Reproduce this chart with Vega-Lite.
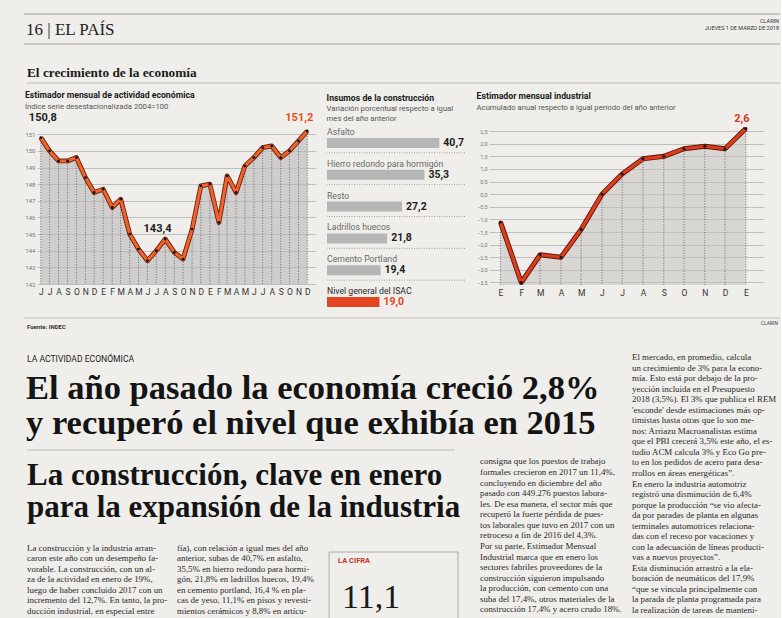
{
  "$schema": "https://vega.github.io/schema/vega-lite/v6.json",
  "background": "#efeeea",
  "padding": {"left": 23, "top": 0, "right": 0, "bottom": 0},
  "spacing": 0,
  "config": {
    "font": "Roboto",
    "view": {"stroke": null},
    "locale": {"number": {"decimal": ",", "thousands": ".", "grouping": [3], "currency": ["$", ""]}},
    "title": {"anchor": "start", "frame": "bounds", "font": "Roboto", "fontSize": 8.7, "fontWeight": "bold", "color": "#1a1a1a", "subtitleFont": "Roboto", "subtitleFontSize": 7.7, "subtitleColor": "#555555", "subtitlePadding": 3, "subtitleLineHeight": 10},
    "axis": {"labelFont": "Roboto"}
  },
  "vconcat": [
    {
      "width": 743,
      "height": 91,
      "layer": [
        {"data": {"values": [{"linea": "superior"}]}, "mark": {"type": "rule", "color": "#8a8a8a", "strokeWidth": 0.8}, "encoding": {"x": {"value": -13}, "x2": {"value": 743}, "y": {"value": 14}}},
        {"data": {"values": [{"linea": "cabecera"}]}, "mark": {"type": "rule", "color": "#8a8a8a", "strokeWidth": 0.8}, "encoding": {"x": {"value": -13}, "x2": {"value": 743}, "y": {"value": 44}}},
        {"data": {"values": [{"linea": "seccion"}]}, "mark": {"type": "rule", "color": "#a0a0a0", "strokeWidth": 0.7}, "encoding": {"x": {"value": -10}, "x2": {"value": 743}, "y": {"value": 83}}},
        {"data": {"values": [{"t": "16 | EL PAÍS"}]}, "mark": {"type": "text", "align": "left", "baseline": "alphabetic", "font": "Liberation Serif", "fontSize": 17, "color": "#222222"}, "encoding": {"text": {"field": "t"}, "x": {"value": -11}, "y": {"value": 35}}},
        {"data": {"values": [{"t": "CLARIN"}]}, "mark": {"type": "text", "align": "right", "baseline": "alphabetic", "fontSize": 5.5, "color": "#333333"}, "encoding": {"text": {"field": "t"}, "x": {"value": 742}, "y": {"value": 23}}},
        {"data": {"values": [{"t": "JUEVES 1 DE MARZO DE 2018"}]}, "mark": {"type": "text", "align": "right", "baseline": "alphabetic", "fontSize": 5.5, "color": "#333333"}, "encoding": {"text": {"field": "t"}, "x": {"value": 742}, "y": {"value": 30}}},
        {"data": {"values": [{"t": "El crecimiento de la economía"}]}, "mark": {"type": "text", "align": "left", "baseline": "alphabetic", "font": "Liberation Serif", "fontWeight": "bold", "fontSize": 13.3, "color": "#1a1a1a"}, "encoding": {"text": {"field": "t"}, "x": {"value": -10}, "y": {"value": 77}}}
      ]
    },
    {
      "hconcat": [
        {
          "width": 279,
          "height": 163,
          "title": {"text": "Estimador mensual de actividad económica", "subtitle": "Índice serie desestacionalizada 2004=100", "offset": 1},
          "data": {
            "values": [
              {"fecha": "2015-06-01", "v": 150.8, "anio": "2015", "etiqueta": "150,8"},
              {"fecha": "2015-07-01", "v": 150.0, "anio": "2015"},
              {"fecha": "2015-08-01", "v": 149.4, "anio": "2015"},
              {"fecha": "2015-09-01", "v": 149.4, "anio": "2015"},
              {"fecha": "2015-10-01", "v": 149.6, "anio": "2015"},
              {"fecha": "2015-11-01", "v": 148.4, "anio": "2015"},
              {"fecha": "2015-12-01", "v": 147.5, "anio": "2015"},
              {"fecha": "2016-01-01", "v": 147.7, "anio": "2016"},
              {"fecha": "2016-02-01", "v": 146.6, "anio": "2016"},
              {"fecha": "2016-03-01", "v": 147.1, "anio": "2016"},
              {"fecha": "2016-04-01", "v": 145.0, "anio": "2016"},
              {"fecha": "2016-05-01", "v": 144.1, "anio": "2016"},
              {"fecha": "2016-06-01", "v": 143.4, "anio": "2016", "etiqueta": "143,4"},
              {"fecha": "2016-07-01", "v": 144.0, "anio": "2016"},
              {"fecha": "2016-08-01", "v": 144.7, "anio": "2016"},
              {"fecha": "2016-09-01", "v": 143.9, "anio": "2016"},
              {"fecha": "2016-10-01", "v": 143.5, "anio": "2016"},
              {"fecha": "2016-11-01", "v": 145.3, "anio": "2016"},
              {"fecha": "2016-12-01", "v": 147.9, "anio": "2016"},
              {"fecha": "2017-01-01", "v": 148.0, "anio": "2017"},
              {"fecha": "2017-02-01", "v": 145.7, "anio": "2017"},
              {"fecha": "2017-03-01", "v": 148.5, "anio": "2017"},
              {"fecha": "2017-04-01", "v": 147.5, "anio": "2017"},
              {"fecha": "2017-05-01", "v": 149.1, "anio": "2017"},
              {"fecha": "2017-06-01", "v": 149.6, "anio": "2017"},
              {"fecha": "2017-07-01", "v": 150.2, "anio": "2017"},
              {"fecha": "2017-08-01", "v": 150.3, "anio": "2017"},
              {"fecha": "2017-09-01", "v": 149.6, "anio": "2017"},
              {"fecha": "2017-10-01", "v": 150.0, "anio": "2017"},
              {"fecha": "2017-11-01", "v": 150.6, "anio": "2017"},
              {"fecha": "2017-12-01", "v": 151.2, "anio": "2017", "etiqueta": "151,2"}
            ],
            "format": {"parse": {"fecha": "utc:'%Y-%m-%d'"}}
          },
          "encoding": {
            "x": {
              "field": "fecha", "type": "temporal", "title": null,
              "scale": {"type": "utc", "domain": [{"year": 2015, "month": 5, "date": 19, "utc": true}, {"year": 2017, "month": 12, "date": 31, "utc": true}]},
              "axis": {"tickCount": {"interval": "month", "step": 1}, "labelExpr": "['E','F','M','A','M','J','J','A','S','O','N','D'][utcmonth(datum.value)]", "grid": false, "domain": false, "ticks": false, "labelFontSize": 8.5, "labelColor": "#333333", "labelPadding": 3, "labelOverlap": false, "labelFlush": false}
            },
            "y": {
              "field": "v", "type": "quantitative", "title": null,
              "scale": {"domain": [142, 151.8], "nice": false, "zero": false},
              "axis": {"values": [142, 143, 144, 145, 146, 147, 148, 149, 150, 151], "grid": true, "gridColor": "#b3b3b3", "gridWidth": 0.8, "domain": false, "ticks": false, "labelFontSize": 6, "labelColor": "#777777", "labelPadding": 2}
            }
          },
          "layer": [
            {"mark": {"type": "area", "color": "#b9b9b7", "opacity": 0.6}, "encoding": {"y2": {"datum": 142}}},
            {"mark": {"type": "rule", "color": "#555555", "strokeWidth": 0.8, "strokeDash": [1, 1.6]}, "encoding": {"y2": {"datum": 142}}},
            {"mark": {"type": "line", "color": "#6e1e0c", "strokeWidth": 4.8, "strokeJoin": "round"}, "encoding": {}},
            {"mark": {"type": "line", "color": "#f0642a", "strokeWidth": 3, "strokeJoin": "round"}, "encoding": {}},
            {"mark": {"type": "circle", "color": "#111111", "size": 8, "opacity": 1}},
            {"transform": [{"filter": "datum.etiqueta == '150,8'"}], "mark": {"type": "text", "fontWeight": "bold", "fontSize": 11, "color": "#222222", "dx": 2, "dy": -17, "baseline": "alphabetic"}, "encoding": {"text": {"field": "etiqueta"}}},
            {"transform": [{"filter": "datum.etiqueta == '143,4'"}], "mark": {"type": "text", "fontWeight": "bold", "fontSize": 11, "color": "#222222", "dx": 10, "dy": -29, "baseline": "alphabetic"}, "encoding": {"text": {"field": "etiqueta"}}},
            {"transform": [{"filter": "datum.etiqueta == '151,2'"}], "mark": {"type": "text", "fontWeight": "bold", "fontSize": 11, "color": "#e8501c", "dx": -8, "dy": -10, "baseline": "alphabetic"}, "encoding": {"text": {"field": "etiqueta"}}},
            {"transform": [{"aggregate": [{"op": "mean", "field": "fecha", "as": "centro"}], "groupby": ["anio"]}], "mark": {"type": "text", "fontSize": 8.5, "color": "#444444", "dy": 24, "baseline": "alphabetic"}, "encoding": {"x": {"field": "centro", "type": "temporal"}, "y": {"datum": 142}, "text": {"field": "anio"}}}
          ]
        },
        {
          "width": 138,
          "height": 191,
          "title": {"text": "Insumos de la construcción", "subtitle": ["Variación porcentual respecto a igual", "mes del año anterior"], "offset": -2},
          "data": {
            "values": [
              {"cat": "Asfalto", "v": 40.7, "tipo": "insumo"},
              {"cat": "Hierro redondo para hormigón", "v": 35.3, "tipo": "insumo"},
              {"cat": "Resto", "v": 27.2, "tipo": "insumo"},
              {"cat": "Ladrillos huecos", "v": 21.8, "tipo": "insumo"},
              {"cat": "Cemento Portland", "v": 19.4, "tipo": "insumo"},
              {"cat": "Nivel general del ISAC", "v": 19.0, "tipo": "general"}
            ]
          },
          "encoding": {
            "y": {"field": "cat", "type": "nominal", "axis": null, "scale": {"domain": ["Asfalto", "Hierro redondo para hormigón", "Resto", "Ladrillos huecos", "Cemento Portland", "Nivel general del ISAC"], "paddingInner": 0, "paddingOuter": 0}}
          },
          "layer": [
            {"transform": [{"filter": "datum.tipo == 'insumo'"}], "mark": {"type": "rule", "color": "#8a8a8a", "strokeWidth": 0.8, "strokeDash": [1, 1.5]}, "encoding": {"y": {"field": "cat", "type": "nominal", "bandPosition": 1}}},
            {"mark": {"type": "bar", "height": 10, "yOffset": 6}, "encoding": {"x": {"field": "v", "type": "quantitative", "axis": null, "scale": {"domain": [0, 49.6]}}, "color": {"field": "tipo", "type": "nominal", "legend": null, "scale": {"domain": ["insumo", "general"], "range": ["#b6b6b6", "#e2451f"]}}}},
            {"mark": {"type": "text", "align": "left", "baseline": "middle", "yOffset": -5, "fontSize": 8.7}, "encoding": {"x": {"datum": 0, "type": "quantitative"}, "text": {"field": "cat"}, "color": {"condition": {"test": "datum.tipo == 'general'", "value": "#2a2a2a"}, "value": "#6b6b6b"}}},
            {"mark": {"type": "text", "align": "left", "baseline": "middle", "yOffset": 6, "dx": 4, "fontSize": 10.5, "fontWeight": "bold"}, "encoding": {"x": {"field": "v", "type": "quantitative"}, "text": {"field": "v", "type": "quantitative", "format": ".1f"}, "color": {"condition": {"test": "datum.tipo == 'general'", "value": "#e2451f"}, "value": "#222222"}}}
          ]
        },
        {
          "width": 275,
          "height": 164,
          "title": {"text": "Estimador mensual industrial", "subtitle": "Acumulado anual respecto a igual período del año anterior", "offset": 1},
          "data": {
            "values": [
              {"fecha": "2017-01-01", "v": -1.1, "anio": "2017"},
              {"fecha": "2017-02-01", "v": -3.5, "anio": "2017"},
              {"fecha": "2017-03-01", "v": -2.4, "anio": "2017"},
              {"fecha": "2017-04-01", "v": -2.5, "anio": "2017"},
              {"fecha": "2017-05-01", "v": -1.4, "anio": "2017"},
              {"fecha": "2017-06-01", "v": 0.0, "anio": "2017"},
              {"fecha": "2017-07-01", "v": 0.8, "anio": "2017"},
              {"fecha": "2017-08-01", "v": 1.4, "anio": "2017"},
              {"fecha": "2017-09-01", "v": 1.5, "anio": "2017"},
              {"fecha": "2017-10-01", "v": 1.8, "anio": "2017"},
              {"fecha": "2017-11-01", "v": 1.9, "anio": "2017"},
              {"fecha": "2017-12-01", "v": 1.8, "anio": "2017"},
              {"fecha": "2018-01-01", "v": 2.6, "anio": "18", "etiqueta": "2,6"}
            ],
            "format": {"parse": {"fecha": "utc:'%Y-%m-%d'"}}
          },
          "encoding": {
            "x": {
              "field": "fecha", "type": "temporal", "title": null,
              "scale": {"type": "utc", "domain": [{"year": 2016, "month": 12, "date": 15, "utc": true}, {"year": 2018, "month": 1, "date": 28, "utc": true}]},
              "axis": {"tickCount": {"interval": "month", "step": 1}, "labelExpr": "['E','F','M','A','M','J','J','A','S','O','N','D'][utcmonth(datum.value)]", "grid": false, "domain": false, "ticks": false, "labelFontSize": 8.5, "labelColor": "#333333", "labelPadding": 3, "labelOverlap": false, "labelFlush": false}
            },
            "y": {
              "field": "v", "type": "quantitative", "title": null,
              "scale": {"domain": [-3.6, 2.9], "nice": false, "zero": false},
              "axis": {"values": [-3.5, -3, -2.5, -2, -1.5, -1, -0.5, 0, 0.5, 1, 1.5, 2, 2.5], "format": ".1f", "grid": true, "gridColor": "#b3b3b3", "gridWidth": 0.8, "domain": false, "ticks": false, "labelFontSize": 5.5, "labelColor": "#777777", "labelPadding": 2}
            }
          },
          "layer": [
            {"mark": {"type": "area", "color": "#c2c2c0", "opacity": 0.55}, "encoding": {"y2": {"datum": -3.6}}},
            {"mark": {"type": "rule", "color": "#555555", "strokeWidth": 0.8, "strokeDash": [1, 1.6]}, "encoding": {"y2": {"datum": -3.6}}},
            {"mark": {"type": "line", "color": "#5e1509", "strokeWidth": 5, "strokeJoin": "round"}, "encoding": {}},
            {"mark": {"type": "line", "color": "#dc3d1d", "strokeWidth": 3.2, "strokeJoin": "round"}, "encoding": {}},
            {"mark": {"type": "circle", "color": "#111111", "size": 9, "opacity": 1}},
            {"transform": [{"filter": "datum.etiqueta == '2,6'"}], "mark": {"type": "text", "fontWeight": "bold", "fontSize": 11, "color": "#d2391b", "dx": -4, "dy": -7, "baseline": "alphabetic"}, "encoding": {"text": {"field": "etiqueta"}}},
            {"transform": [{"aggregate": [{"op": "mean", "field": "fecha", "as": "centro"}], "groupby": ["anio"]}], "mark": {"type": "text", "fontSize": 8.5, "color": "#444444", "dy": 22, "baseline": "alphabetic"}, "encoding": {"x": {"field": "centro", "type": "temporal"}, "y": {"datum": -3.6}, "text": {"field": "anio"}}}
          ]
        }
      ],
      "spacing": 10
    },
    {
      "width": 743,
      "height": 306,
      "resolve": {"scale": {"y": "independent"}},
      "layer": [
        {"data": {"values": [{"linea": "pie"}]}, "mark": {"type": "rule", "color": "#9a9a9a", "strokeWidth": 0.6}, "encoding": {"x": {"value": -13}, "x2": {"value": 743}, "y": {"value": 6}}},
        {"data": {"values": [{"t": "Fuente: INDEC"}]}, "mark": {"type": "text", "align": "left", "baseline": "alphabetic", "fontSize": 6, "fontWeight": "bold", "color": "#333333"}, "encoding": {"text": {"field": "t"}, "x": {"value": -10}, "y": {"value": 17}}},
        {"data": {"values": [{"t": "CLARIN"}]}, "mark": {"type": "text", "align": "right", "baseline": "alphabetic", "fontSize": 5, "color": "#444444"}, "encoding": {"text": {"field": "t"}, "x": {"value": 741}, "y": {"value": 13}}},
        {"data": {"values": [{"t": "LA ACTIVIDAD ECONÓMICA"}]}, "mark": {"type": "text", "align": "left", "baseline": "alphabetic", "fontSize": 8.6, "color": "#222222"}, "encoding": {"text": {"field": "t"}, "x": {"value": -10}, "y": {"value": 50}}},
        {
          "data": {"values": [{"l": 1, "t": "El año pasado la economía creció 2,8%"}, {"l": 2, "t": "y recuperó el nivel que exhibía en 2015"}]},
          "mark": {"type": "text", "align": "left", "baseline": "alphabetic", "font": "Liberation Serif", "fontWeight": "bold", "fontSize": 34.5, "color": "#141414"},
          "encoding": {"text": {"field": "t"}, "x": {"value": -11}, "y": {"field": "l", "type": "quantitative", "axis": null, "scale": {"domain": [1, 2], "range": [87, 122]}}}
        },
        {"data": {"values": [{"linea": "titular"}]}, "mark": {"type": "rule", "color": "#a5a5a5", "strokeWidth": 0.7}, "encoding": {"x": {"value": -10}, "x2": {"value": 418}, "y": {"value": 138}}},
        {
          "data": {"values": [{"l": 1, "t": "La construcción, clave en enero"}, {"l": 2, "t": "para la expansión de la industria"}]},
          "mark": {"type": "text", "align": "left", "baseline": "alphabetic", "font": "Liberation Serif", "fontWeight": "bold", "fontSize": 31, "color": "#141414"},
          "encoding": {"text": {"field": "t"}, "x": {"value": -10}, "y": {"field": "l", "type": "quantitative", "axis": null, "scale": {"domain": [1, 2], "range": [173, 204.5]}}}
        },
        {
          "data": {"values": [
            {"l": 1, "t": "La construcción y la industria arran-"},
            {"l": 2, "t": "caron este año con un desempeño fa-"},
            {"l": 3, "t": "vorable. La construcción, con un al-"},
            {"l": 4, "t": "za de la actividad en enero de 19%,"},
            {"l": 5, "t": "luego de haber concluido 2017 con un"},
            {"l": 6, "t": "incremento del 12,7%. En tanto, la pro-"},
            {"l": 7, "t": "ducción industrial, en especial entre"}
          ]},
          "mark": {"type": "text", "align": "left", "baseline": "alphabetic", "font": "Liberation Serif", "fontSize": 8.9, "color": "#2a2a2a"},
          "encoding": {"text": {"field": "t"}, "x": {"value": -10}, "y": {"field": "l", "type": "quantitative", "axis": null, "scale": {"domain": [1, 7], "range": [239, 301.7]}}}
        },
        {
          "data": {"values": [
            {"l": 1, "t": "fía), con relación a igual mes del año"},
            {"l": 2, "t": "anterior, subas de 40,7% en asfalto,"},
            {"l": 3, "t": "35,5% en hierro redondo para hormi-"},
            {"l": 4, "t": "gón, 21,8% en ladrillos huecos, 19,4%"},
            {"l": 5, "t": "en cemento portland, 16,4 % en pla-"},
            {"l": 6, "t": "cas de yeso, 11,1% en pisos y revesti-"},
            {"l": 7, "t": "mientos cerámicos y 8,8% en artícu-"}
          ]},
          "mark": {"type": "text", "align": "left", "baseline": "alphabetic", "font": "Liberation Serif", "fontSize": 8.9, "color": "#2a2a2a"},
          "encoding": {"text": {"field": "t"}, "x": {"value": 140}, "y": {"field": "l", "type": "quantitative", "axis": null, "scale": {"domain": [1, 7], "range": [239, 301.7]}}}
        },
        {"data": {"values": [{"caja": "la cifra"}]}, "mark": {"type": "rect", "fill": null, "stroke": "#9a9a9a", "strokeWidth": 0.8}, "encoding": {"x": {"value": 292}, "x2": {"value": 421}, "y": {"value": 240}, "y2": {"value": 310}}},
        {"data": {"values": [{"t": "LA CIFRA"}]}, "mark": {"type": "text", "align": "left", "baseline": "alphabetic", "fontSize": 7.5, "fontWeight": "bold", "color": "#cc3322"}, "encoding": {"text": {"field": "t"}, "x": {"value": 301}, "y": {"value": 251}}},
        {"data": {"values": [{"t": "11,1"}]}, "mark": {"type": "text", "align": "left", "baseline": "alphabetic", "font": "Liberation Serif", "fontSize": 34, "color": "#1a1a1a"}, "encoding": {"text": {"field": "t"}, "x": {"value": 305}, "y": {"value": 296}}},
        {
          "data": {"values": [
            {"l": 1, "t": "consigna que los puestos de trabajo"},
            {"l": 2, "t": "formales crecieron en 2017 un 11,4%,"},
            {"l": 3, "t": "concluyendo en diciembre del año"},
            {"l": 4, "t": "pasado con 449.276 puestos labora-"},
            {"l": 5, "t": "les. De esa manera, el sector más que"},
            {"l": 6, "t": "recuperó la fuerte pérdida de pues-"},
            {"l": 7, "t": "tos laborales que tuvo en 2017 con un"},
            {"l": 8, "t": "retroceso a fin de 2016 del 4,3%."},
            {"l": 9, "t": "\u00a0\u00a0\u00a0Por su parte, Estimador Mensual"},
            {"l": 10, "t": "Industrial marca que en enero los"},
            {"l": 11, "t": "sectores fabriles proveedores de la"},
            {"l": 12, "t": "construcción siguieron impulsando"},
            {"l": 13, "t": "la producción, con cemento con una"},
            {"l": 14, "t": "suba del 17,4%, otros materiales de la"},
            {"l": 15, "t": "construcción 17,4% y acero crudo 18%."}
          ]},
          "mark": {"type": "text", "align": "left", "baseline": "alphabetic", "font": "Liberation Serif", "fontSize": 8.9, "color": "#2a2a2a"},
          "encoding": {"text": {"field": "t"}, "x": {"value": 443}, "y": {"field": "l", "type": "quantitative", "axis": null, "scale": {"domain": [1, 15], "range": [152.4, 300.4]}}}
        },
        {
          "data": {"values": [
            {"l": 1, "t": "\u00a0\u00a0\u00a0El mercado, en promedio, calcula"},
            {"l": 2, "t": "un crecimiento de 3% para la econo-"},
            {"l": 3, "t": "mía. Esto está por debajo de la pro-"},
            {"l": 4, "t": "yección incluida en el Presupuesto"},
            {"l": 5, "t": "2018 (3,5%). El 3% que publica el REM"},
            {"l": 6, "t": "'esconde' desde estimaciones más op-"},
            {"l": 7, "t": "timistas hasta otras que lo son me-"},
            {"l": 8, "t": "nos: Arriazu Macroanalistas estima"},
            {"l": 9, "t": "que el PBI crecerá 3,5% este año, el es-"},
            {"l": 10, "t": "tudio ACM calcula 3% y Eco Go pre-"},
            {"l": 11, "t": "to en los pedidos de acero para desa-"},
            {"l": 12, "t": "rrollos en áreas energéticas”."},
            {"l": 13, "t": "\u00a0\u00a0\u00a0En enero la industria automotriz"},
            {"l": 14, "t": "registró una disminución de 6,4%"},
            {"l": 15, "t": "porque la producción “se vio afecta-"},
            {"l": 16, "t": "da por paradas de planta en algunas"},
            {"l": 17, "t": "terminales automotrices relaciona-"},
            {"l": 18, "t": "das con el receso por vacaciones y"},
            {"l": 19, "t": "con la adecuación de líneas producti-"},
            {"l": 20, "t": "vas a nuevos proyectos”."},
            {"l": 21, "t": "\u00a0\u00a0\u00a0Esta disminución arrastró a la ela-"},
            {"l": 22, "t": "boración de neumáticos del 17,9%"},
            {"l": 23, "t": "“que se vincula principalmente con"},
            {"l": 24, "t": "la parada de planta programada para"},
            {"l": 25, "t": "la realización de tareas de manteni-"}
          ]},
          "mark": {"type": "text", "align": "left", "baseline": "alphabetic", "font": "Liberation Serif", "fontSize": 8.9, "color": "#2a2a2a"},
          "encoding": {"text": {"field": "t"}, "x": {"value": 595}, "y": {"field": "l", "type": "quantitative", "axis": null, "scale": {"domain": [1, 25], "range": [48, 301]}}}
        }
      ]
    }
  ]
}
